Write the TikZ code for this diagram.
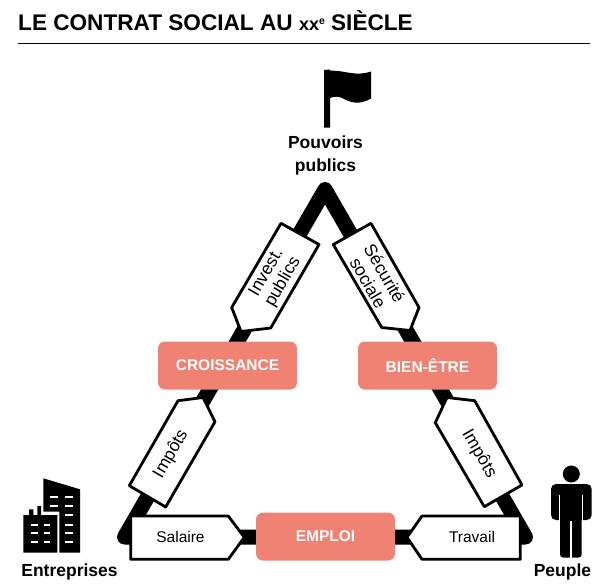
\documentclass[tikz,border=0pt]{standalone}
\usepackage{fontspec}
\setmainfont{Liberation Sans}
\definecolor{salmon}{HTML}{EF8273}
\tikzset{
  tag/.style={draw=black,fill=white,line width=2.8pt,line join=round},
  redbox/.style={fill=salmon,rounded corners=7pt,minimum width=139pt,minimum height=48pt,inner sep=0pt,text=white,font=\fontsize{15.5}{18}\selectfont\bfseries},
  actor/.style={inner sep=0pt,align=center,font=\fontsize{17.5}{23}\selectfont\bfseries},
  taglabel/.style={inner sep=0pt,align=center,font=\fontsize{15.5}{17}\selectfont},
  slantlabel/.style={inner sep=0pt,align=center,font=\fontsize{17.5}{19}\selectfont},
  icon/.style={fill=black,draw=none}
}
\begin{document}
\begin{tikzpicture}[x=1pt,y=-1pt]
\useasboundingbox (0,0) rectangle (612,587);
% title
\node[anchor=base west,inner sep=0pt,font=\fontsize{22.6}{26}\selectfont\bfseries] (title) at (18,30) {LE CONTRAT SOCIAL AU {\fontsize{18}{20}\selectfont xx}\raisebox{6pt}{\fontsize{10.5}{12}\selectfont e} SIÈCLE};
\coordinate (ruleL) at (18,43.5);
\coordinate (ruleR) at (590,43.5);
\draw[line width=1pt] (ruleL) -- (ruleR);
% triangle
\coordinate (apex) at (325,189.5);
\coordinate (ent) at (124.5,537);
\coordinate (peu) at (525.5,537);
\draw[line width=15pt,line join=round] (apex) -- (ent) -- (peu) -- cycle;
% red boxes
\node[redbox] (croissance) at (227.5,365.5) {CROISSANCE};
\node[redbox] (bienetre) at (427.5,365.5) {BIEN-ÊTRE};
\node[redbox] (emploi) at (325.5,536.5) {EMPLOI};
% tags
\draw[tag] (281,223.3) -- (319,244.5) -- (270.7,328) -- (241,331.5) -- (231.7,307.5) -- cycle;
\node[slantlabel,rotate=60] (invest) at (275,277.5) {Invest.\\publics};
\draw[tag] (371,223.3) -- (333.3,244.5) -- (381.7,327.5) -- (410,330.5) -- (419,307.5) -- cycle;
\node[slantlabel,rotate=-60] (secu) at (376.5,278) {Sécurité\\sociale};
\draw[tag] (129.3,485.7) -- (165.7,507) -- (215,421.7) -- (203,397.5) -- (178,400.7) -- cycle;
\node[slantlabel,rotate=60] (impotsL) at (171,454) {Impôts};
\draw[tag] (522,485) -- (484.3,506.7) -- (435.3,422.7) -- (447,397.5) -- (474.7,400.7) -- cycle;
\node[slantlabel,rotate=-60] (impotsR) at (479,454) {Impôts};
\draw[tag] (130.7,516) -- (228.3,516) -- (244.3,537.3) -- (228.3,559.3) -- (130.7,559.3) -- cycle;
\node[taglabel] (salaire) at (180.5,536.5) {Salaire};
\draw[tag] (520.3,516) -- (422,516) -- (407,537.3) -- (422,559.3) -- (520.3,559.3) -- cycle;
\node[taglabel] (travail) at (472,536.5) {Travail};
% actors
\node[actor] (pouvoirs) at (325.5,155) {Pouvoirs\\publics};
\node[actor,anchor=base] (entreprises) at (69.5,576) {Entreprises};
\node[actor,anchor=base] (peuple) at (562.5,576) {Peuple};
% flag
\fill[icon] (324,70) -- (330,69.5) -- (330,127.7) -- (324,127.7) -- cycle;
\fill[icon] (330,70.7) .. controls (345,70) and (355,77) .. (371,71.5) -- (371,98.5)
  .. controls (358,106) and (350,102) .. (342,98) .. controls (338,96) and (334,96.5) .. (330,98) -- cycle;
% building
\fill[icon] (43.3,478.3) -- (80,489.3) -- (80,552.7) -- (59.3,552.7) -- (59.3,511.7) -- (43.3,511.7) -- cycle;
\fill[icon] (23.3,515) -- (29,515) -- (29,509.3) -- (33.3,509.3) -- (33.3,515) -- (37.3,515) -- (37.3,506) -- (41,506) -- (41,515) -- (57.3,515) -- (57.3,552.7) -- (23.3,552.7) -- cycle;
\foreach \yy in {496.7,505.7}{\fill[white] (50,\yy-1) rectangle (58.3,\yy+1);}
\foreach \yy in {496.7,505.7,515,525,533.3,542.3}{\fill[white] (65,\yy-1) rectangle (73.3,\yy+1);}
\foreach \yy in {525,533.3,542.3}{\fill[white] (30.7,\yy-1) rectangle (37.7,\yy+1);\fill[white] (44.3,\yy-1) rectangle (50,\yy+1);}
% person
\fill[icon] (571.3,474) circle[radius=8.5pt];
\fill[icon,rounded corners=5pt] (551,484) rectangle (591.7,520);
\fill[icon,rounded corners=3pt] (560,500) rectangle (581.7,557.5);
\fill[white] (559,495) rectangle (560,521);
\fill[white] (581.7,495) rectangle (582.7,521);
\fill[white] (570.2,521) rectangle (571.8,558);
\end{tikzpicture}
\end{document}
